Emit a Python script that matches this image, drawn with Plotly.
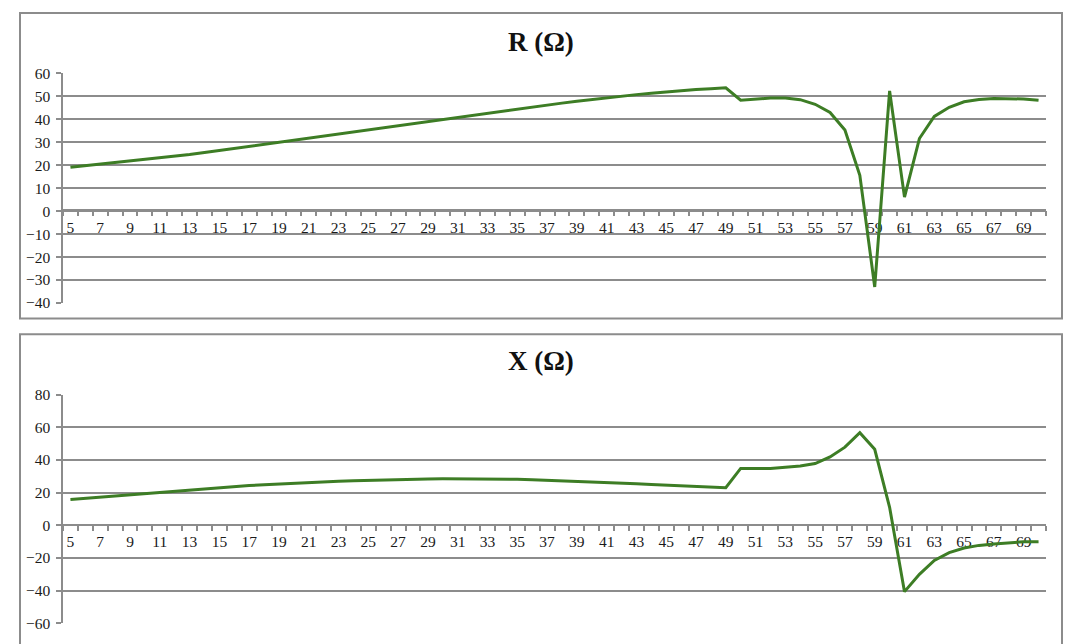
import plotly.graph_objects as go

# ---- data ----
categories = [5, 6, 7, 8, 9, 10, 11, 12, 13, 14, 15, 16, 17, 18, 19, 20, 21, 22, 23, 24,
              25, 26, 27, 28, 29, 30, 31, 32, 33, 34, 35, 36, 37, 38, 39, 40, 41, 42, 43, 44,
              45, 46, 47, 48, 49, 50, 51, 52, 53, 54, 55, 56, 57, 58, 59, 60, 61, 62, 63, 64,
              65, 66, 67, 68, 69, 70]

r_values = [19.1, 19.8, 20.4, 21.0, 21.6, 22.3, 23.0, 23.8, 24.6, 25.5,
            26.4, 27.3, 28.3, 29.3, 30.2, 31.1, 32.0, 32.9, 33.8, 34.7,
            35.6, 36.5, 37.4, 38.3, 39.2, 40.1, 41.0, 41.9, 42.8, 43.7,
            44.6, 45.4, 46.2, 47.0, 47.8, 48.6, 49.3, 50.0, 50.7, 51.3,
            51.9, 52.4, 52.9, 53.3, 53.7, 48.3, 48.8, 49.2, 49.2, 48.5,
            46.5, 42.9, 35.3, 15.6, -33.0, 52.3, 6.1, 31.6, 41.2, 45.2,
            47.6, 48.6, 49.0, 49.0, 48.8, 48.2]

x_values = [15.8, 16.5, 17.3, 18.1, 18.9, 19.7, 20.4, 21.1, 21.8, 22.5,
            23.1, 23.7, 24.3, 24.8, 25.3, 25.8, 26.2, 26.6, 27.0, 27.3,
            27.6, 27.9, 28.1, 28.3, 28.4, 28.5, 28.5, 28.5, 28.4, 28.3,
            28.1, 27.9, 27.6, 27.3, 27.0, 26.6, 26.2, 25.8, 25.4, 25.0,
            24.6, 24.2, 23.8, 23.4, 23.0, 34.8, 34.6, 34.8, 35.5, 36.3,
            37.8, 41.8, 47.8, 56.7, 46.5, 11.0, -40.6, -30.0, -21.5, -16.7,
            -13.9, -12.3, -11.4, -10.6, -10.1, -10.0]

x_tick_labels = [5, 7, 9, 11, 13, 15, 17, 19, 21, 23, 25, 27, 29, 31, 33, 35, 37, 39,
                 41, 43, 45, 47, 49, 51, 53, 55, 57, 59, 61, 63, 65, 67, 69]

r_title = "R (Ω)"
x_title = "X (Ω)"

# ---- layout helpers (pixel -> paper fraction) ----
W, H = 1066, 644
def px(x):
    return x / W
def py(y):
    return 1 - y / H

GREEN = "#3d7d25"
GRAY = "#8c8c8c"
FONT = "Liberation Serif"
TICKFONT = dict(family=FONT, size=15.5, color="#1a1a1a")

fig = go.Figure()
fig.add_trace(go.Scatter(x=categories, y=r_values, mode="lines",
                         line=dict(color=GREEN, width=3), xaxis="x", yaxis="y",
                         showlegend=False, hoverinfo="x+y"))
fig.add_trace(go.Scatter(x=categories, y=x_values, mode="lines",
                         line=dict(color=GREEN, width=3), xaxis="x2", yaxis="y2",
                         showlegend=False, hoverinfo="x+y"))

xmin = categories[0] - 0.5
xmax = categories[-1] + 0.5

def xaxis_def(pos):
    return dict(
        domain=[px(63), px(1046)], range=[xmin, xmax], anchor="free", position=pos,
        showgrid=False, zeroline=False, showline=True, linecolor=GRAY, linewidth=1.5,
        tickmode="array", tickvals=x_tick_labels, ticktext=[str(v) for v in x_tick_labels],
        ticks="outside", ticklen=1, tickcolor="rgba(0,0,0,0)", ticklabelstandoff=2,
        tickfont=TICKFONT,
        minor=dict(ticks="outside", tickmode="linear", tick0=xmin, dtick=1,
                   ticklen=5, tickcolor=GRAY, tickwidth=1.5, showgrid=False),
        layer="below traces", fixedrange=True,
    )

def yaxis_def(dom, rng, dt, anchor):
    return dict(
        domain=dom, range=rng, dtick=dt, tick0=0, anchor=anchor,
        showgrid=True, gridcolor=GRAY, gridwidth=1.5, zeroline=False,
        showline=True, linecolor=GRAY, linewidth=1.5,
        ticks="outside", ticklen=5, tickcolor=GRAY, tickwidth=1.5,
        ticklabelstandoff=3,
        tickfont=TICKFONT,
        layer="below traces", fixedrange=True,
    )

fig.update_layout(
    width=W, height=H,
    margin=dict(l=0, r=0, t=0, b=0),
    paper_bgcolor="white", plot_bgcolor="white",
    xaxis=xaxis_def(py(206.7)),
    yaxis=yaxis_def([py(302), py(66)], [-40, 60], 10, "x"),
    xaxis2=xaxis_def(py(530)),
    yaxis2=yaxis_def([py(631), py(396)], [-60, 80], 20, "x2"),
    shapes=[
        dict(type="rect", xref="paper", yref="paper",
             x0=px(20), x1=px(1062), y0=py(318), y1=py(4),
             line=dict(color=GRAY, width=2), layer="below"),
        dict(type="rect", xref="paper", yref="paper",
             x0=px(20), x1=px(1062), y0=py(680), y1=py(334),
             line=dict(color=GRAY, width=2), layer="below"),
    ],
    annotations=[
        dict(text=f"<b>{r_title}</b>", xref="paper", yref="paper",
             x=px(541), y=py(34), xanchor="center", yanchor="middle", showarrow=False,
             font=dict(family=FONT, size=27, color="#111111")),
        dict(text=f"<b>{x_title}</b>", xref="paper", yref="paper",
             x=px(541), y=py(362), xanchor="center", yanchor="middle", showarrow=False,
             font=dict(family=FONT, size=27, color="#111111")),
    ],
)

# remove the default page margin so the 1066x644 figure fills the window exactly
fig.write_html(
    "out.html",
    config={"displayModeBar": False},
    post_script="document.body.style.margin='0';document.documentElement.style.overflow='hidden';",
)
